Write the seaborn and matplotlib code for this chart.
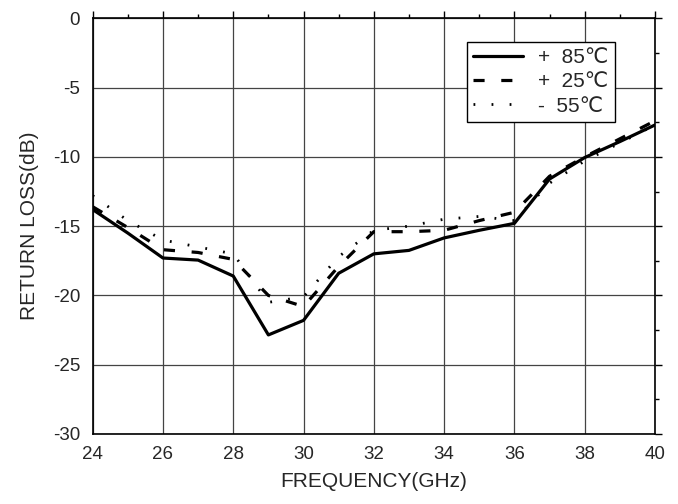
import matplotlib
matplotlib.use("Agg")
import matplotlib.pyplot as plt
from matplotlib.ticker import MultipleLocator
import seaborn as sns
import pandas as pd

freq = [24, 25, 26, 27, 28, 29, 30, 31, 32, 33, 34, 35, 36, 37, 38, 39, 40]
rl_85 = [-13.8, -15.5, -17.3, -17.45, -18.6, -22.85, -21.8, -18.4, -17.0, -16.75,
         -15.85, -15.3, -14.8, -11.6, -10.05, -8.9, -7.7]
rl_25 = [-13.6, -15.1, -16.7, -16.9, -17.4, -20.0, -20.8, -17.9, -15.4, -15.4,
         -15.3, -14.6, -14.0, -11.4, -10.0, -8.7, -7.4]
rl_m55 = [-12.8, -14.6, -16.0, -16.5, -17.0, -20.5, -20.1, -17.2, -15.3, -15.0,
          -14.5, -14.3, -14.6, -11.9, -10.3, -9.0, -7.7]
labels = ["+  85\u2103", "+  25\u2103", "-  55\u2103"]

sns.set_style("white")
plt.rcParams['font.family'] = ['Liberation Sans', 'DejaVu Sans']
plt.rcParams['axes.unicode_minus'] = False
plt.rcParams['lines.scale_dashes'] = False

fig = plt.figure(figsize=(6.78, 5.04), dpi=100)
ax = fig.add_axes([0.1367, 0.1389, 0.966 - 0.1367, 0.9637 - 0.1389])

df = pd.DataFrame({"freq": freq, "a": rl_85, "b": rl_25, "c": rl_m55})
styles = [("a", labels[0], "-", 2.3),
          ("b", labels[1], (0, (8.0, 12.0)), 2.3),
          ("c", labels[2], (0, (1.3, 11.7)), 2.0)]
for col, lab, ls, lw in styles:
    sns.lineplot(data=df, x="freq", y=col, ax=ax, color="black",
                 linestyle=ls, linewidth=lw, label=lab, zorder=3)

ax.set_xlim(24, 40)
ax.set_ylim(-30, 0)
ax.xaxis.set_major_locator(MultipleLocator(2))
ax.xaxis.set_minor_locator(MultipleLocator(1))
ax.yaxis.set_major_locator(MultipleLocator(5))
ax.yaxis.set_minor_locator(MultipleLocator(2.5))
ax.grid(True, which="major", color="#444444", linewidth=0.9)
ax.set_axisbelow(True)
for s in ax.spines.values():
    s.set_color("black")
    s.set_linewidth(1.2)
ax.tick_params(which="both", direction="out", top=True, right=True,
               color="black", width=1.0)
ax.tick_params(which="major", length=5, labelsize=13.5, pad=4)
ax.tick_params(which="minor", length=3)
ax.set_xlabel("FREQUENCY(GHz)", fontsize=15, labelpad=6)
ax.set_ylabel("RETURN LOSS(dB)", fontsize=15, labelpad=10)

leg = ax.legend(loc="upper left", bbox_to_anchor=(0.666, 0.943),
                fontsize=15, frameon=True, fancybox=False, framealpha=1,
                edgecolor="black", handlelength=2.4, handletextpad=0.7,
                labelspacing=0.25, borderpad=0.3, borderaxespad=0)
leg.get_frame().set_linewidth(1.0)

fig.savefig("out.png", dpi=100)
